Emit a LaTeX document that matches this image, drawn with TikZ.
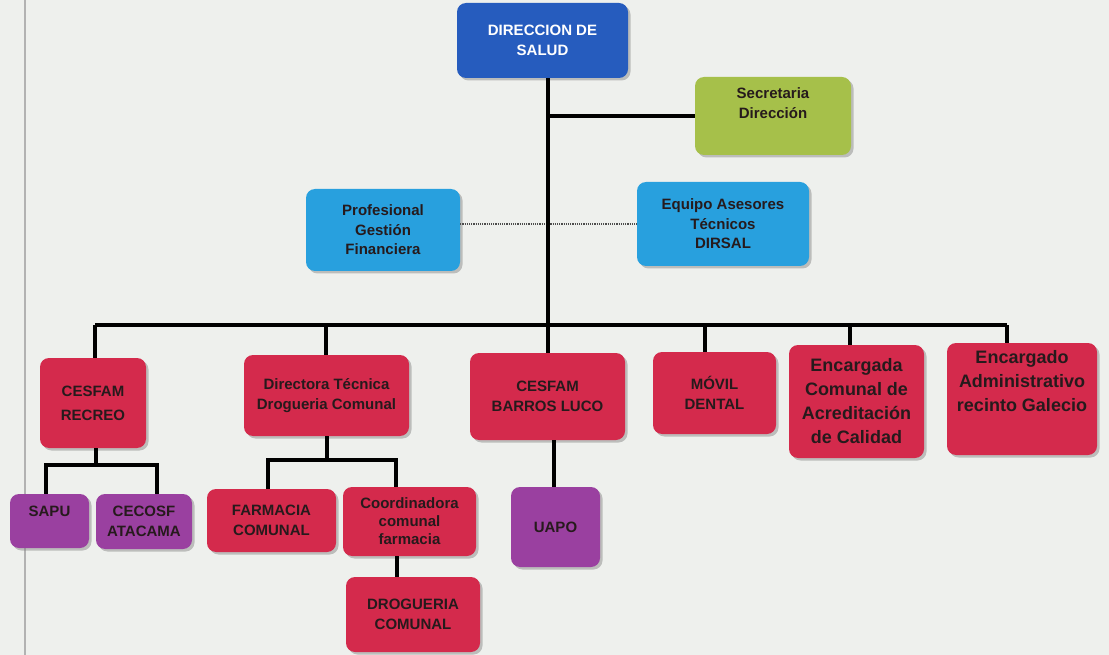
\documentclass[tikz,border=0pt]{standalone}
\usepackage{fontspec}
\setmainfont{Liberation Sans}
\usetikzlibrary{shadows}

\definecolor{fondo}{RGB}{238,240,237}
\definecolor{azuldir}{RGB}{38,92,190}
\definecolor{celeste}{RGB}{40,160,222}
\definecolor{verde}{RGB}{166,192,74}
\definecolor{rojo}{RGB}{212,42,76}
\definecolor{morado}{RGB}{154,64,160}
\definecolor{texto}{RGB}{38,26,28}

\begin{document}
\begin{tikzpicture}[x=1pt,y=-1pt]
      \tikzset{
        cargo/.style={rounded corners=9pt,inner sep=0pt,align=center,text=texto,
          font=\bfseries\fontsize{15}{19.5}\selectfont,
          drop shadow={shadow xshift=2.5pt,shadow yshift=-2.5pt,opacity=0.45}},
        linea/.style={line width=3.5pt,line join=miter},
        grande/.style={font=\bfseries\fontsize{18}{24}\selectfont}
      }

      \fill[fondo] (0,0) rectangle (1109,655);
      \useasboundingbox (0,0) rectangle (1109,655);
      \draw[black!30,line width=2.5pt] (25,0) -- (25,655);

      \node[cargo,fill=azuldir,text=white,minimum width=171pt,minimum height=75pt] (dir) at (542.5,40.5) {DIRECCION DE\\SALUD};
      \node[cargo,fill=verde,minimum width=156pt,minimum height=78pt] (sec) at (773,116) {Secretaria\\Dirección\\[6pt]};
      \node[cargo,fill=celeste,minimum width=154pt,minimum height=82pt] (prof) at (383,230) {Profesional\\Gestión\\Financiera};
      \node[cargo,fill=celeste,minimum width=172pt,minimum height=84pt] (equipo) at (723,224) {Equipo Asesores\\Técnicos\\DIRSAL};

      \node[cargo,fill=rojo,font=\bfseries\fontsize{15}{24}\selectfont,minimum width=106pt,minimum height=90pt] (recreo) at (93,403) {CESFAM\\RECREO};
      \node[cargo,fill=rojo,minimum width=165pt,minimum height=81pt] (directora) at (326.5,395.5) {Directora Técnica\\Drogueria Comunal};
      \node[cargo,fill=rojo,minimum width=155pt,minimum height=87pt] (barros) at (547.5,396.5) {CESFAM\\BARROS LUCO};
      \node[cargo,fill=rojo,minimum width=123pt,minimum height=82pt] (movil) at (714.5,393) {MÓVIL\\DENTAL};
      \node[cargo,grande,fill=rojo,minimum width=135pt,minimum height=113pt] (acred) at (856.5,401.5) {Encargada\\Comunal de\\Acreditación\\de Calidad};
      \node[cargo,grande,fill=rojo,minimum width=150pt,minimum height=112pt] (galecio) at (1022,399) {Encargado\\Administrativo\\recinto Galecio\\[12pt]};

      \node[cargo,fill=morado,minimum width=79pt,minimum height=54pt] (sapu) at (49.5,521) {SAPU\\[0pt]};
      \node[cargo,fill=morado,minimum width=96pt,minimum height=55pt] (cecosf) at (144,521.5) {CECOSF\\ATACAMA};
      \node[cargo,fill=rojo,minimum width=129pt,minimum height=63pt] (farmacia) at (271.5,520.5) {FARMACIA\\COMUNAL};
      \node[cargo,fill=rojo,font=\bfseries\fontsize{15}{18}\selectfont,minimum width=133pt,minimum height=69pt] (coord) at (409.5,521.5) {Coordinadora\\comunal\\farmacia};
      \node[cargo,fill=rojo,minimum width=134pt,minimum height=75pt] (drog) at (413,614.5) {DROGUERIA\\COMUNAL};
      \node[cargo,fill=morado,minimum width=89pt,minimum height=80pt] (uapo) at (555.5,527) {UAPO};

      \coordinate (eje) at (548,325);
      \coordinate (b1) at (95,325);
      \coordinate (b2) at (326,325);
      \coordinate (b4) at (705,325);
      \coordinate (b5) at (850,325);
      \coordinate (b6) at (1007,325);
      \coordinate (r1) at (96,465);
      \coordinate (r2) at (46,465);
      \coordinate (r3) at (157,465);
      \coordinate (d1) at (327,460);
      \coordinate (d2) at (268,460);
      \coordinate (d3) at (396,460);

      \draw[black!70,line width=1.2pt,densely dotted] (prof.east |- equipo.west) -- (equipo.west);

      \draw[linea] (dir.south -| eje) -- (eje)
            (eje |- sec.west) -- (sec.west)
            (b1) -- (b6)
            (eje) -- (barros.north -| eje);
      \foreach \b/\n in {b1/recreo,b2/directora,b4/movil,b5/acred,b6/galecio}
        \draw[linea] (\b) -- (\b |- \n.north);

      \draw[linea] (recreo.south -| r1) -- (r1)
            (r2 |- sapu.north) -- (r2) -- (r3) -- (r3 |- cecosf.north);
      \draw[linea] (directora.south -| d1) -- (d1)
            (d2 |- farmacia.north) -- (d2) -- (d3) -- (d3 |- coord.north);
      \draw[linea] (coord.south -| 397,0) -- (drog.north -| 397,0);
      \draw[linea] (barros.south -| 554,0) -- (uapo.north -| 554,0);
    \end{tikzpicture}
\end{document}
